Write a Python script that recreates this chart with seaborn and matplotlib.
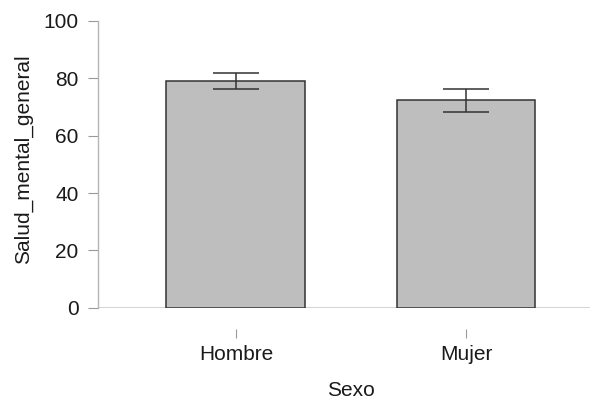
import matplotlib
matplotlib.use("Agg")
import matplotlib.pyplot as plt
import seaborn as sns
import numpy as np
import pandas as pd

categories = ["Hombre", "Mujer"]
means = [78.9, 72.4]
ci_lower = [76.3, 68.4]
ci_upper = [81.8, 76.2]
y_ticks = [0, 20, 40, 60, 80, 100]

sns.set_style("white")
plt.rcParams['font.family'] = ['Liberation Sans', 'DejaVu Sans']

df = pd.DataFrame({"Sexo": categories, "Salud_mental_general": means})

fig = plt.figure(figsize=(5.9, 3.98), dpi=100)
ax = fig.add_axes([97.7/590, 90.3/398, 1 - 97.7/590, 286.7/398])

sns.barplot(data=df, x="Sexo", y="Salud_mental_general", ax=ax,
            color="#bebebe", saturation=1, errorbar=None, width=0.604,
            edgecolor="#333333", linewidth=1.1)
for p in ax.patches:
    p.set_facecolor("#bebebe")

xpos = np.arange(len(categories))
yerr = np.array([np.array(means) - np.array(ci_lower),
                 np.array(ci_upper) - np.array(means)])
ax.errorbar(xpos, means, yerr=yerr, fmt="none", ecolor="#333333",
            elinewidth=1.1, capsize=16.5, capthick=1.1, zorder=5)

ax.set_ylim(0, 100)
ax.set_yticks(y_ticks)
ax.set_xlim(-0.601, 1.539)

ax.axhline(0, color="#cccccc", linewidth=1.2, zorder=0.5)

for s in ["top", "right"]:
    ax.spines[s].set_visible(False)
ax.spines["left"].set_color("#b5b5b5")
ax.spines["left"].set_linewidth(1.0)
ax.spines["bottom"].set_position(("outward", 15))
ax.spines["bottom"].set_visible(False)

ax.tick_params(axis="y", direction="out", length=7.2, width=0.8, color="#999999",
               labelsize=15, labelcolor="#1a1a1a", pad=6.5, left=True)
ax.tick_params(axis="x", direction="out", length=6.3, width=0.8, color="#999999",
               labelsize=15, labelcolor="#1a1a1a", pad=5.5, bottom=True)

ax.set_xlabel("Sexo", fontsize=15, color="#1a1a1a")
ax.set_ylabel("Salud_mental_general", fontsize=15, color="#1a1a1a")
ax.xaxis.set_label_coords((351 - 97.7) / (590 - 97.7), -(390 - 307.7) / 286.7)
ax.xaxis.label.set_verticalalignment("center")
ax.yaxis.set_label_coords(-(97.7 - 23.5) / (590 - 97.7), (307.7 - 159) / 286.7)
ax.yaxis.label.set_verticalalignment("center")

fig.savefig("out.png", dpi=100)
